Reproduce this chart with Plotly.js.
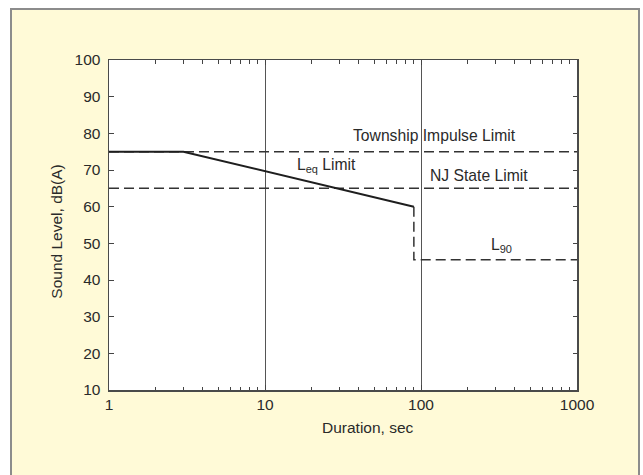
<!DOCTYPE html>
<html>
<head>
<meta charset="utf-8">
<script src="https://cdn.plot.ly/plotly-3.0.1.min.js"></script>
<style>
  html, body { margin:0; padding:0; background:#ffffff; width:643px; height:475px; overflow:hidden; }
  #frame { position:absolute; left:10px; top:8px; width:630px; height:480px; background:#fffad7; border:2px solid #8c8c8c; box-sizing:border-box; }
  #chart { position:absolute; left:0; top:0; width:643px; height:475px; }
</style>
</head>
<body>
<div id="frame"></div>
<div id="chart"></div>
<script>
// Data
const leqX = [1, 3, 90];
const leqY = [75, 75, 60];
const l90X = [90, 90, 1000];
const l90Y = [60, 45.5, 45.5];
const townshipX = [1, 1000];
const townshipY = [75, 75];
const njX = [1, 1000];
const njY = [65, 65];
const xTickVals = [1, 10, 100, 1000];
const xTickText = ['1', '10', '100', '1000'];
const yTickVals = [10, 20, 30, 40, 50, 60, 70, 80, 90, 100];
const xTitle = 'Duration, sec';
const yTitle = 'Sound Level, dB(A)';

const font = 'Liberation Sans, Arial, Helvetica, sans-serif';
const txt = '#2a2a2a';
const dashed = '10px,5px';

const traces = [
  {x: townshipX, y: townshipY, mode:'lines', line:{color:'#333', width:1.5, dash:dashed}, hoverinfo:'skip'},
  {x: njX, y: njY, mode:'lines', line:{color:'#333', width:1.5, dash:dashed}, hoverinfo:'skip'},
  {x: l90X, y: l90Y, mode:'lines', line:{color:'#333', width:1.5, dash:dashed}, hoverinfo:'skip'},
  {x: leqX, y: leqY, mode:'lines', line:{color:'#1e1e1e', width:2}, hoverinfo:'skip'}
];

const layout = {
  width: 643, height: 475,
  margin: {l:109, r:66, t:60, b:84.5, pad:0},
  paper_bgcolor: 'rgba(0,0,0,0)',
  plot_bgcolor: '#ffffff',
  showlegend: false,
  font: {family: font, size: 15, color: txt},
  xaxis: {
    type: 'log', range: [0, 3],
    tickmode: 'array', tickvals: xTickVals, ticktext: xTickText,
    ticks: 'inside', ticklen: 5, tickcolor: '#444', tickwidth: 1,
    showline: true, linecolor: '#4a4a4a', linewidth: 1.5, mirror: 'allticks',
    showgrid: true, gridcolor: '#555555', gridwidth: 1,
    zeroline: false,
    tickfont: {family: font, size: 15.5, color: txt},
    ticklabelstandoff: 0,
    minor: {dtick: 'D1', ticks: 'inside', ticklen: 3.5, tickcolor: '#444', tickwidth: 1, showgrid: false}
  },
  yaxis: {
    range: [10, 100],
    tickmode: 'array', tickvals: yTickVals,
    ticks: 'inside', ticklen: 4.5, tickcolor: '#444', tickwidth: 1,
    showline: true, linecolor: '#4a4a4a', linewidth: 1.5, mirror: 'allticks',
    showgrid: false, zeroline: false,
    tickfont: {family: font, size: 15.5, color: txt},
    ticklabelstandoff: 4
  },
  annotations: [
    {x: 0.553, y: -0.113, xref:'paper', yref:'paper', text: xTitle, showarrow:false, xanchor:'center', yanchor:'middle', font:{family:font, size:15.5, color:txt}},
    {x: -0.111, y: 0.48, xref:'paper', yref:'paper', text: yTitle, textangle:-90, showarrow:false, xanchor:'center', yanchor:'middle', font:{family:font, size:15.5, color:txt}},
    {x: 2.087, y: 79.4, xref:'x', yref:'y', text:'Township Impulse Limit', showarrow:false, font:{family:font, size:15.7, color:txt}},
    {x: 2.374, y: 68.4, xref:'x', yref:'y', text:'NJ State Limit', showarrow:false, font:{family:font, size:15.7, color:txt}},
    {x: 1.391, y: 71.2, xref:'x', yref:'y', text:'L<sub>eq</sub> Limit', showarrow:false, font:{family:font, size:15.7, color:txt}},
    {x: 2.513, y: 49.3, xref:'x', yref:'y', text:'L<sub>90</sub>', showarrow:false, font:{family:font, size:15.7, color:txt}}
  ]
};

Plotly.newPlot('chart', traces, layout, {staticPlot: true, displayModeBar: false});
</script>
</body>
</html>
